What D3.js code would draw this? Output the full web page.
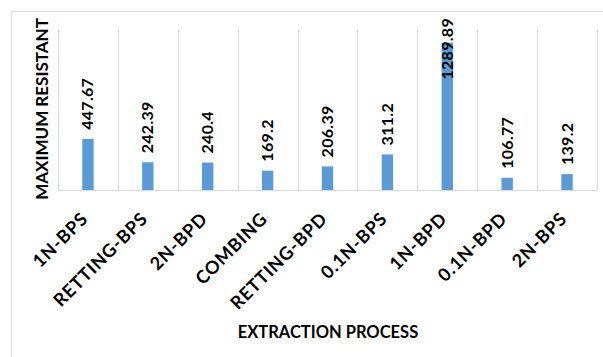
<!DOCTYPE html>
<html>
<head>
<meta charset="utf-8">
<script src="https://cdn.jsdelivr.net/npm/d3@7/dist/d3.min.js"></script>
<style>
  html, body { margin: 0; padding: 0; background: #fff; }
  svg { display: block; }
  text { font-family: Lato, "Open Sans", sans-serif; font-weight: bold; fill: #000; }
</style>
</head>
<body>
<svg id="chart" width="603" height="357"></svg>
<script>
// Extraction processes and their maximum resistance
const categories = ["1N-BPS", "RETTING-BPS", "2N-BPD", "COMBING", "RETTING-BPD",
                    "0.1N-BPS", "1N-BPD", "0.1N-BPD", "2N-BPS"];
const values = [447.67, 242.39, 240.4, 169.2, 206.39, 311.2, 1289.89, 106.77, 139.2];
const valueLabels = ["447.67", "242.39", "240.4", "169.2", "206.39", "311.2", "1289.89", "106.77", "139.2"];
const yDomain = [0, 1400];

const svg = d3.select("#chart");
const W = 603, H = 357;
const m = { left: 58, right: 6, top: 30, bottom: 167 };
const plotW = W - m.left - m.right;
const plotH = H - m.top - m.bottom;

// outer chart frame
svg.append("rect")
  .attr("x", 11.5).attr("y", 11.5)
  .attr("width", W + 10).attr("height", H + 10)
  .attr("fill", "none").attr("stroke", "#d9d9d9").attr("stroke-width", 1);

const x = d3.scaleBand().domain(categories).range([0, plotW]).paddingInner(0).paddingOuter(0);
const y = d3.scaleLinear().domain(yDomain).range([plotH, 0]);

const g = svg.append("g").attr("transform", `translate(${m.left},${m.top})`);

// vertical gridlines at category boundaries
const bounds = categories.map(c => x(c)).concat([plotW]);
g.selectAll("line.grid").data(bounds).join("line")
  .attr("class", "grid")
  .attr("x1", d => Math.round(d) + 0.5).attr("x2", d => Math.round(d) + 0.5)
  .attr("y1", 0).attr("y2", plotH)
  .attr("stroke", "#d9d9d9").attr("stroke-width", 1);

// bottom axis line
g.append("line")
  .attr("x1", 0).attr("x2", plotW)
  .attr("y1", plotH + 0.5).attr("y2", plotH + 0.5)
  .attr("stroke", "#d9d9d9").attr("stroke-width", 1);

const barW = x.bandwidth() * 0.19;

g.selectAll("rect.bar").data(values).join("rect")
  .attr("class", "bar")
  .attr("x", (d, i) => x(categories[i]) + x.bandwidth() / 2 - barW / 2)
  .attr("width", barW)
  .attr("y", d => y(d))
  .attr("height", d => plotH - y(d))
  .attr("fill", "#5b9bd5");

// value labels, vertical, kept inside the chart frame
const labels = g.selectAll("text.val").data(values).join("text")
  .attr("class", "val")
  .attr("font-size", 16)
  .attr("letter-spacing", 0.3)
  .text((d, i) => valueLabels[i]);
labels.each(function (d, i) {
  const len = this.getComputedTextLength();
  const cx = x(categories[i]) + x.bandwidth() / 2 + 5.5;
  let start = y(d) - 9;
  const minStart = -12 + len;
  if (start < minStart) start = minStart;
  d3.select(this).attr("transform", `translate(${cx},${start}) rotate(-90)`);
});

// category labels at 45 degrees
g.selectAll("text.cat").data(categories).join("text")
  .attr("class", "cat")
  .attr("font-size", 18)
  .attr("letter-spacing", 0.8)
  .attr("text-anchor", "end")
  .attr("transform", d => `translate(${x(d) + x.bandwidth() / 2 + 1},${plotH + 30}) rotate(-45)`)
  .text(d => d);

// axis titles
svg.append("text")
  .attr("font-size", 17)
  .attr("text-anchor", "middle")
  .attr("transform", `translate(48,109) rotate(-90)`)
  .text("MAXIMUM RESISTANT");

svg.append("text")
  .attr("font-size", 16.5)
  .attr("text-anchor", "middle")
  .attr("x", 328).attr("y", 338)
  .text("EXTRACTION PROCESS");
</script>
</body>
</html>
